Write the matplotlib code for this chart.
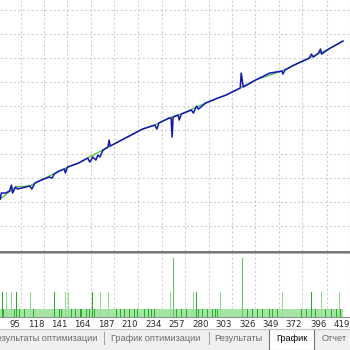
import numpy as np
import matplotlib.pyplot as plt
from matplotlib.lines import Line2D
from matplotlib.patches import Rectangle

# equity curve (trade number, balance)
eq_trades = [75, 76, 80, 84, 86, 87, 90, 92, 96, 104, 106, 109, 113, 123, 126, 128,
             133, 138, 139, 141, 152, 161, 163, 166, 169, 171, 173, 176, 181, 182,
             183, 200, 215, 227, 229, 231, 241, 243, 244, 245, 250, 251, 253, 263,
             265, 268, 270, 277, 289, 297, 311, 312, 314, 326, 340, 352, 353, 355,
             364, 379, 381, 383, 388, 390, 391, 398, 412]
eq_values = [2125, 2375, 2375, 2458, 2708, 2375, 2625, 2542, 2583, 2667, 2542, 2792,
             2875, 3042, 3000, 3167, 3292, 3375, 3208, 3458, 3625, 3833, 3667, 3875,
             3750, 3958, 3875, 4167, 4292, 4583, 4333, 4708, 5042, 5208, 5042, 5292,
             5500, 5500, 4708, 5542, 5625, 5417, 5667, 5833, 5708, 6000, 5875, 6125,
             6333, 6458, 6750, 7375, 6792, 7083, 7375, 7458, 7333, 7500, 7708, 8000,
             8167, 8042, 8208, 8375, 8167, 8375, 8708]

# green line underneath (peeks out in a few places)
gr_trades = [75, 90, 104, 133, 152, 161, 176, 200, 215, 227, 241, 253, 277, 297,
             311, 326, 352, 364, 379, 398, 412]
gr_values = [2130, 2630, 2672, 3298, 3630, 3840, 4172, 4712, 5048, 5212, 5505, 5672,
             6130, 6462, 6755, 7088, 7462, 7712, 8005, 8380, 8712]

# lots per trade (lower panel)
first_trade, last_trade = 75, 412
base_lot = 0.1
dark_small = [78, 89, 94, 99, 108, 111, 116, 120, 123, 125, 133, 135, 145, 149, 154,
              155, 160, 163, 168, 171, 181, 186, 189, 193, 197, 202, 207, 210, 217,
              221, 224, 227, 232, 237, 241, 248, 253, 258, 270, 274, 279, 284, 287,
              289, 299, 304, 318, 323, 328, 333, 340, 343, 348, 359, 364, 371, 376,
              385, 395, 401, 406, 410]
mid_dark = [77, 91, 128, 166, 169, 178, 231, 268, 295, 381]
mid_light = [81, 86, 105, 139, 142, 174, 181, 242, 265, 292, 353, 391, 409]
mid_lot = 0.3
tall_trades = [245, 313]
tall_lot = 0.7

tick_labels = [95, 118, 141, 164, 187, 210, 234, 257, 280, 303, 326, 349, 372, 396, 419]

tabs = ['Результаты оптимизации', 'График оптимизации', 'Результаты', 'График', 'Отчет']

W, H = 350, 350
fig = plt.figure(figsize=(3.5, 3.5), dpi=100)
fig.patch.set_facecolor('white')

def fy(px):
    return 1 - px / H

xlim = (74.7, 412.4)
grid_kw = dict(color='#cfcfcf', lw=0.8, ls=(0, (2, 2)))

# --- upper panel ---
ax = fig.add_axes([0, fy(251), 1, 251 / H])
ax.set_xlim(*xlim)
ax.set_ylim(-40, 10420)
for s in ax.spines.values():
    s.set_visible(False)
ax.set_xticks(tick_labels)
ax.set_yticks(np.arange(1000, 10001, 1000))
ax.tick_params(left=False, bottom=False, labelleft=False, labelbottom=False)
ax.grid(True, **grid_kw)
ax.plot(gr_trades, gr_values, color='#3cc03c', lw=0.9, zorder=3)
ax.plot(eq_trades, eq_values, color='#1414b8', lw=1.1, zorder=4)

# separator
fig.add_artist(Line2D([0, 1], [fy(251.5), fy(251.5)], color='#505050', lw=1.1))
fig.add_artist(Line2D([0, 1], [fy(253.2), fy(253.2)], color='#a0a0a0', lw=0.6))

# --- lower panel ---
ax2 = fig.add_axes([0, fy(317), 1, (317 - 254) / H])
ax2.set_xlim(*xlim)
ax2.set_ylim(0, 0.747)
for k in ['top', 'left', 'right']:
    ax2.spines[k].set_visible(False)
ax2.spines['bottom'].set_color('#909090')
ax2.spines['bottom'].set_linewidth(0.8)
ax2.set_xticks(tick_labels)
ax2.set_xticklabels([str(t) for t in tick_labels], ha='right')
ax2.set_yticks([])
ax2.tick_params(axis='x', length=0, pad=2, labelsize=6.2, labelcolor='#2a2a2a')
ax2.grid(True, axis='x', **grid_kw)

all_trades = np.arange(first_trade, last_trade + 1)
ax2.bar(all_trades, [base_lot] * len(all_trades), width=1.0, color='#a4e4a4',
        lw=0, zorder=2)
ax2.bar(dark_small, [base_lot] * len(dark_small), width=0.7, color='#22b022',
        lw=0, zorder=3)
ax2.bar(mid_light, [mid_lot] * len(mid_light), width=1.0, color='#8edc8e', lw=0, zorder=3)
ax2.bar(mid_dark, [mid_lot] * len(mid_dark), width=0.7, color='#22b022', lw=0, zorder=3)
ax2.bar(tall_trades, [tall_lot] * len(tall_trades), width=1.0, color='#58c858',
        lw=0, zorder=3)

# --- tab strip ---
fig.add_artist(Rectangle((0, 0), 1, fy(329), transform=fig.transFigure,
                         facecolor='#f0f0f0', edgecolor='none'))
fig.add_artist(Line2D([0, 1], [fy(329), fy(329)], color='#c8c8c8', lw=0.8))
sel_x0, sel_x1 = 269 / W, 314 / W
fig.add_artist(Rectangle((sel_x0, 0), sel_x1 - sel_x0, fy(329), transform=fig.transFigure,
                         facecolor='white', edgecolor='#707070', lw=0.8))
for sx in [104, 209]:
    fig.add_artist(Line2D([sx / W, sx / W], [fy(344), fy(332)], color='#a0a0a0', lw=0.7))

tab_pos = [(97, 'right'), (155.5, 'center'), (238, 'center'), (292, 'center'), (334, 'center')]
for (px, ha), name in zip(tab_pos, tabs):
    fig.text(px / W, fy(338.5), name, ha=ha, va='center', fontsize=6.6,
             family='Liberation Sans',
             color='black' if name == 'График' else '#6a6a6a')

fig.savefig('out.png', dpi=100)
